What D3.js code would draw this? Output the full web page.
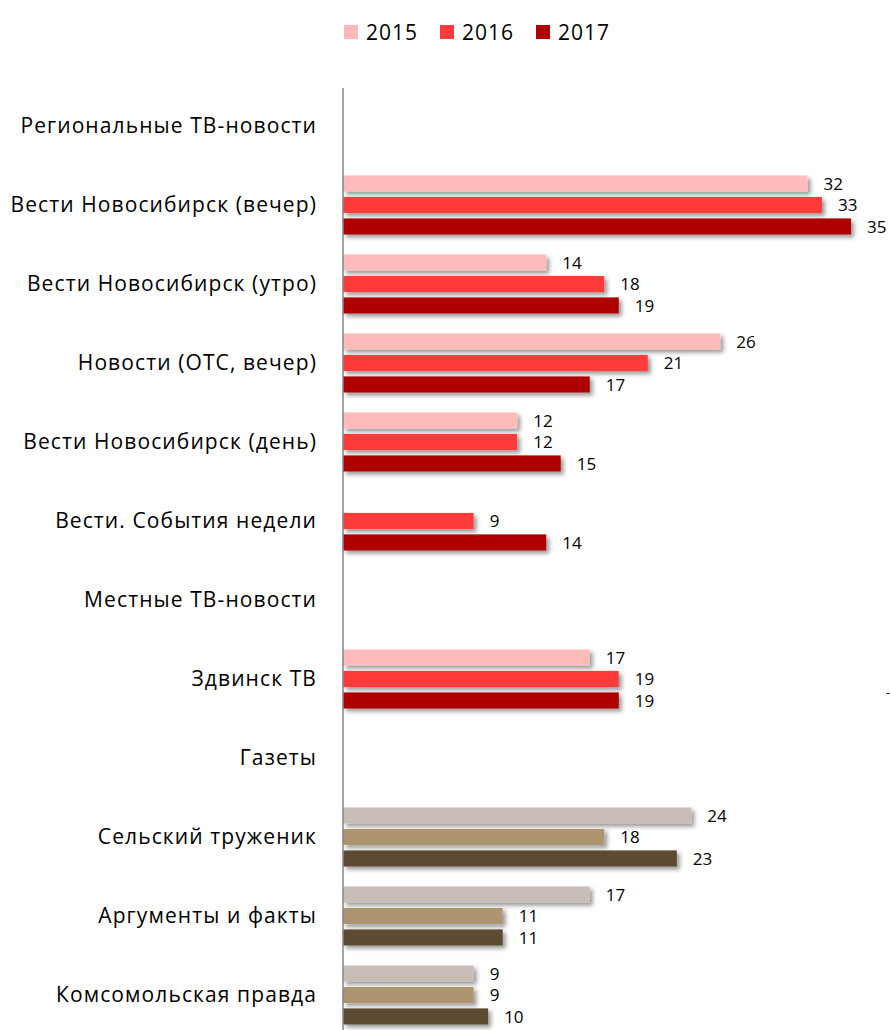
<!DOCTYPE html>
<html><head><meta charset="utf-8">
<script src="https://cdn.jsdelivr.net/npm/d3@7"></script>
<style>body{margin:0;background:#fff}</style>
</head><body>
<script>
const categories = ["Региональные ТВ-новости","Вести Новосибирск (вечер)","Вести Новосибирск (утро)","Новости (ОТС, вечер)","Вести Новосибирск (день)","Вести. События недели","Местные ТВ-новости","Здвинск ТВ","Газеты","Сельский труженик","Аргументы и факты","Комсомольская правда"];
const years = ["2015","2016","2017"];
const values2015 = [null,32,14,26,12,null,null,17,null,24,17,9];
const values2016 = [null,33,18,21,12,9,null,19,null,18,11,9];
const values2017 = [null,35,19,17,15,14,null,19,null,23,11,10];
const newspaperRows = ["Сельский труженик","Аргументы и факты","Комсомольская правда"];
const tvColors = ["#FFBABA","#FF3B3B","#AE0000"];
const paperColors = ["#C9BEB7","#AD956F","#5B4C33"];

const W=891,H=1030;
const svg=d3.select("body").append("svg").attr("width",W).attr("height",H);
const defs=svg.append("defs");
const f=defs.append("filter").attr("id","sh").attr("x","-5%").attr("y","-50%").attr("width","115%").attr("height","250%");
f.append("feDropShadow").attr("dx",3).attr("dy",3).attr("stdDeviation",2).attr("flood-color","#000").attr("flood-opacity",0.4);

const x=d3.scaleLinear().domain([0,35]).range([343,851]);
const y=d3.scaleBand().domain(categories).range([86.5,1034.5]);
const yi=d3.scaleBand().domain(years).range([0,59]).paddingInner(0.25);
const series=[values2015,values2016,values2017];
const font="'Open Sans', 'Liberation Sans', Arial, sans-serif";

// bars
categories.forEach((c,i)=>{
  const isPaper=newspaperRows.includes(c);
  const cols=isPaper?paperColors:tvColors;
  const g=svg.append("g").attr("transform",`translate(0,${y(c)+y.bandwidth()/2-29.5})`);
  years.forEach((yr,k)=>{
    const v=series[k][i];
    if(v==null) return;
    g.append("rect").attr("x",x(0)).attr("y",yi(yr)).attr("width",x(v)-x(0)).attr("height",yi.bandwidth())
      .attr("fill",cols[k]).attr("filter","url(#sh)");
    g.append("text").attr("x",x(v)+16).attr("y",yi(yr)+yi.bandwidth()/2).attr("dy","0.36em")
      .attr("font-family",font).attr("font-size",17).attr("fill","#000").text(v);
  });
});

// axis
const yAxis=d3.axisLeft(y).tickSize(0).tickPadding(26);
const ag=svg.append("g").attr("transform",`translate(${x(0)},0)`).call(yAxis);
ag.select(".domain").attr("stroke","#868686").attr("stroke-width",1.5).attr("d",`M0,88V${H}`);
ag.selectAll("text").attr("font-family",font).attr("font-size",21).attr("letter-spacing","1.1px").attr("fill","#000");

// legend
const lg=svg.append("g");
const lx=[344,440,536];
years.forEach((yr,k)=>{
  lg.append("rect").attr("x",lx[k]).attr("y",25).attr("width",14).attr("height",14).attr("fill",tvColors[k]);
  lg.append("text").attr("x",lx[k]+22).attr("y",32).attr("dy","0.36em").attr("font-family",font).attr("font-size",21).attr("letter-spacing","1px").text(yr);
});
svg.append("text").attr("x",886).attr("y",697).attr("font-family",font).attr("font-size",12).text("-");
</script>
</body></html>
